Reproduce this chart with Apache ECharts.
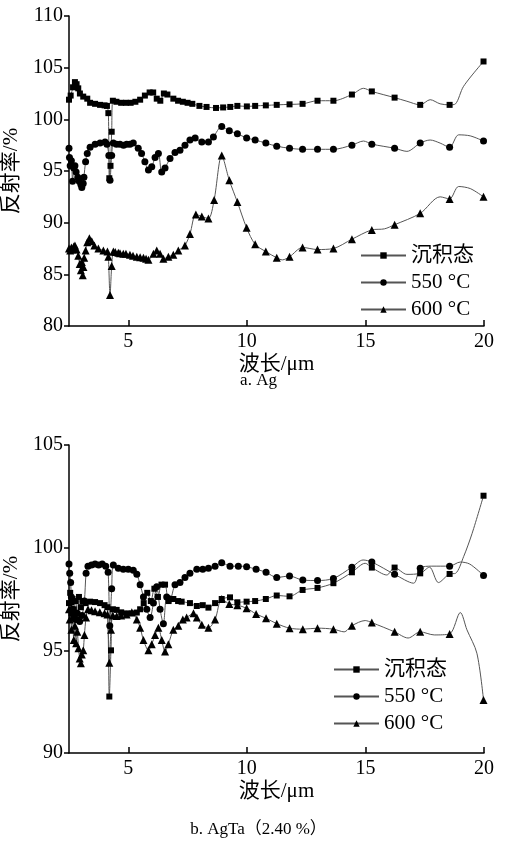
<!DOCTYPE html>
<html>
<head>
<meta charset="utf-8">
<script src="https://cdn.jsdelivr.net/npm/echarts/dist/echarts.min.js"></script>
<style>
  html, body { margin: 0; padding: 0; background: #fff; }
  #main { width: 517px; height: 850px; }
</style>
</head>
<body>
<div id="main"></div>
<script>
// tick positions and names
const xTicks = [5, 10, 15, 20];
const seriesNames = ['沉积态', '550 °C', '600 °C'];

// a. Ag -- points with markers, then bends of the curve (no marker)
const agDep = [[2.5,101.9],[2.57,102.3],[2.67,103.1],[2.75,103.6],[2.82,103.4],[2.89,103.0],[2.96,102.5],[3.1,102.2],[3.27,102.0],[3.39,101.6],[3.6,101.5],[3.81,101.4],[4.0,101.35],[4.1,101.3],[4.16,100.6],[4.2,94.3],[4.25,95.5],[4.3,98.8],[4.35,101.8],[4.5,101.7],[4.7,101.6],[4.9,101.6],[5.1,101.6],[5.3,101.7],[5.5,101.9],[5.7,102.3],[5.9,102.6],[6.05,102.6],[6.2,102.0],[6.35,101.8],[6.5,102.5],[6.65,102.4],[6.9,102.0],[7.1,101.8],[7.3,101.7],[7.5,101.6],[7.7,101.5],[8.0,101.3],[8.3,101.2],[8.7,101.1],[9.0,101.15],[9.3,101.2],[9.6,101.3],[10.0,101.25],[10.35,101.3],[10.8,101.35],[11.26,101.4],[11.8,101.45],[12.35,101.5],[12.98,101.8],[13.65,101.8],[14.43,102.4],[15.27,102.7],[16.23,102.1],[17.31,101.4],[18.55,101.4],[19.98,105.6]];
const agDepBends = [[14.92,103.0],[16.75,101.75],[17.73,101.9],[18.15,101.5],[18.8,101.5],[19.14,103.2]];

const ag550 = [[2.5,97.2],[2.52,96.3],[2.55,95.5],[2.6,96.0],[2.65,94.0],[2.7,95.3],[2.75,95.5],[2.8,94.9],[2.87,94.4],[2.93,94.0],[3.0,93.7],[3.04,93.4],[3.1,93.8],[3.13,94.4],[3.2,95.9],[3.27,96.7],[3.39,97.3],[3.6,97.6],[3.81,97.7],[4.02,97.8],[4.1,97.6],[4.18,96.5],[4.23,94.1],[4.3,96.5],[4.37,97.7],[4.5,97.6],[4.65,97.6],[4.8,97.5],[4.93,97.6],[5.07,97.6],[5.21,97.7],[5.42,97.2],[5.56,96.7],[5.7,95.9],[5.85,95.1],[5.99,95.4],[6.13,96.3],[6.27,96.7],[6.41,94.9],[6.55,95.3],[6.76,96.2],[6.97,96.8],[7.18,97.0],[7.39,97.5],[7.6,98.0],[7.82,98.2],[8.1,97.8],[8.38,97.8],[8.59,98.3],[8.94,99.3],[9.26,98.9],[9.6,98.6],[9.99,98.2],[10.35,98.0],[10.8,97.7],[11.26,97.4],[11.8,97.2],[12.35,97.1],[12.98,97.1],[13.65,97.1],[14.43,97.5],[15.27,97.6],[16.23,97.2],[17.31,97.7],[18.55,97.3],[19.98,97.9]];
const ag550Bends = [[14.92,97.9],[16.75,96.9],[17.73,98.0],[18.15,97.7],[18.93,98.5],[19.42,98.4]];

const ag600 = [[2.5,87.5],[2.55,87.3],[2.6,87.6],[2.65,87.4],[2.7,87.7],[2.75,87.8],[2.82,87.4],[2.89,86.8],[2.95,86.0],[3.0,85.4],[3.04,86.2],[3.08,84.9],[3.11,85.7],[3.14,86.6],[3.2,87.3],[3.27,88.1],[3.36,88.5],[3.46,88.2],[3.57,87.8],[3.74,87.5],[3.95,87.3],[4.12,87.2],[4.16,86.7],[4.23,83.0],[4.3,85.8],[4.37,87.2],[4.45,87.15],[4.58,87.1],[4.65,87.05],[4.79,87.0],[4.9,87.0],[5.07,86.9],[5.2,86.8],[5.36,86.7],[5.5,86.65],[5.64,86.6],[5.75,86.5],[5.85,86.4],[6.06,87.0],[6.2,87.3],[6.34,87.0],[6.48,86.5],[6.69,86.7],[6.9,86.9],[7.11,87.3],[7.39,87.8],[7.6,88.9],[7.85,90.8],[8.1,90.6],[8.38,90.4],[8.62,92.2],[8.94,96.5],[9.26,94.1],[9.6,92.0],[9.99,89.5],[10.35,87.9],[10.8,87.2],[11.26,86.6],[11.8,86.7],[12.35,87.6],[12.98,87.4],[13.65,87.5],[14.43,88.4],[15.27,89.3],[16.23,89.8],[17.31,90.9],[18.55,92.3],[19.98,92.5]];
const ag600Bends = [[11.5,86.4],[15.8,89.4],[18.15,92.5],[18.93,93.5],[19.42,93.3]];

// b. AgTa(2.40 %)
const agtaDep = [[2.5,97.3],[2.55,97.8],[2.6,96.8],[2.65,97.5],[2.7,97.0],[2.78,97.4],[2.85,96.5],[2.92,97.6],[3.0,97.1],[3.08,97.4],[3.2,97.3],[3.39,97.37],[3.6,97.35],[3.81,97.3],[4.0,97.2],[4.12,97.1],[4.2,92.75],[4.27,95.0],[4.35,97.0],[4.51,96.97],[4.7,96.85],[4.93,96.8],[5.15,96.8],[5.36,96.84],[5.5,97.0],[5.65,97.3],[5.8,97.8],[5.95,97.4],[6.1,98.0],[6.25,97.6],[6.4,98.2],[6.55,98.2],[6.7,97.4],[6.9,97.5],[7.1,97.4],[7.25,97.37],[7.6,97.3],[7.89,97.16],[8.14,97.2],[8.38,97.08],[8.66,97.3],[8.94,97.5],[9.29,97.58],[9.6,97.34],[9.99,97.37],[10.35,97.4],[10.8,97.5],[11.26,97.67],[11.8,97.63],[12.35,97.94],[12.98,98.04],[13.65,98.27],[14.43,98.8],[15.27,99.03],[16.23,99.03],[17.31,98.75],[18.55,98.72],[19.98,102.53]];
const agtaDepBends = [[14.99,99.24],[15.9,98.67],[16.75,98.7],[17.7,99.05],[18.08,98.3],[18.8,98.75],[19.14,99.56],[19.5,100.7]];

const agta550 = [[2.5,99.2],[2.53,98.75],[2.57,98.3],[2.6,97.6],[2.65,97.0],[2.7,96.7],[2.78,96.5],[2.85,96.8],[2.95,96.4],[3.05,96.7],[3.15,97.4],[3.22,98.75],[3.3,99.1],[3.45,99.15],[3.6,99.2],[3.75,99.15],[3.9,99.2],[4.05,99.1],[4.15,98.8],[4.22,96.2],[4.3,98.0],[4.37,99.15],[4.58,99.0],[4.79,98.95],[5.0,98.95],[5.21,98.9],[5.36,98.7],[5.5,98.2],[5.64,97.6],[5.78,97.0],[5.92,96.6],[6.06,97.3],[6.2,98.1],[6.34,97.0],[6.48,96.3],[6.62,97.6],[6.76,97.5],[6.97,98.2],[7.18,98.3],[7.39,98.55],[7.6,98.75],[7.89,98.95],[8.14,98.95],[8.38,99.0],[8.66,99.1],[8.94,99.27],[9.29,99.1],[9.64,99.1],[9.99,99.07],[10.39,98.95],[10.81,98.8],[11.26,98.55],[11.8,98.62],[12.36,98.42],[12.98,98.4],[13.65,98.5],[14.43,99.05],[15.27,99.3],[16.23,98.7],[17.31,99.0],[18.55,99.1],[19.98,98.65]];
const agta550Bends = [[14.9,99.4],[17.03,98.27],[17.8,99.1],[19.0,99.3],[19.4,99.2]];

const agta600 = [[2.5,97.0],[2.53,96.5],[2.57,97.4],[2.6,96.0],[2.65,96.6],[2.7,95.5],[2.75,96.2],[2.8,95.35],[2.85,95.9],[2.9,95.1],[2.95,94.6],[3.0,94.37],[3.04,94.8],[3.1,95.0],[3.15,95.75],[3.22,96.6],[3.3,97.0],[3.45,96.95],[3.6,96.9],[3.8,96.85],[4.0,96.8],[4.12,96.75],[4.2,94.4],[4.27,96.0],[4.35,96.7],[4.51,96.67],[4.7,96.7],[4.93,96.75],[5.15,96.85],[5.36,96.5],[5.5,96.1],[5.64,95.5],[5.85,95.0],[5.99,95.3],[6.13,95.75],[6.27,96.1],[6.41,95.5],[6.55,94.94],[6.69,95.3],[6.9,96.0],[7.11,96.2],[7.3,96.5],[7.46,96.6],[7.75,96.8],[7.89,96.6],[8.1,96.24],[8.38,96.1],[8.66,96.5],[8.94,97.5],[9.26,97.26],[9.6,97.2],[9.99,97.05],[10.39,96.77],[10.81,96.56],[11.26,96.3],[11.8,96.08],[12.36,96.03],[12.98,96.08],[13.65,96.03],[14.43,96.2],[15.27,96.35],[16.23,95.9],[17.31,95.9],[18.55,95.8],[19.98,92.58]];
const agta600Bends = [[14.1,95.9],[14.99,96.45],[16.8,95.6],[17.9,95.75],[19.0,96.84],[19.28,96.0],[19.7,94.86]];

const FONT = "'Liberation Serif', 'Noto Sans CJK SC', serif";
const chart = echarts.init(document.getElementById('main'));

// merge marked points and plain bends into one sorted line
function build(marked, bends) {
  const pts = marked.map(p => ({ value: p }));
  bends.forEach(p => pts.push({ value: p, symbol: 'none' }));
  return pts.sort((a, b) => a.value[0] - b.value[0]);
}

const symbols = ['rect', 'circle', 'triangle'];
const sizes = [6, 7, 8];

function mkSeries(idx, data, bends, gi) {
  return {
    name: seriesNames[idx],
    type: 'line',
    xAxisIndex: gi,
    yAxisIndex: gi,
    data: build(data, bends),
    symbol: symbols[idx],
    symbolSize: sizes[idx],
    showAllSymbol: true,
    smooth: 0.3,
    lineStyle: { color: '#555', width: 1 },
    itemStyle: { color: '#000' },
    animation: false
  };
}

function xAxis(gi) {
  return {
    type: 'value', gridIndex: gi, min: 2.5, max: 20,
    name: '波长/μm', nameLocation: 'middle', nameGap: 28,
    nameTextStyle: { fontFamily: FONT, fontSize: 21, color: '#000' },
    axisLine: { lineStyle: { color: '#000', width: 1.5 } },
    axisTick: { inside: true, length: 6, customValues: xTicks, lineStyle: { color: '#000', width: 1.5 } },
    axisLabel: { customValues: xTicks, margin: 6, fontFamily: FONT, fontSize: 20, color: '#000' },
    splitLine: { show: false }
  };
}

function yAxis(gi, min, max) {
  return {
    type: 'value', gridIndex: gi, min: min, max: max, interval: 5,
    name: '反射率/%', nameLocation: 'middle', nameGap: 40,
    nameTextStyle: { fontFamily: FONT, fontSize: 21, color: '#000' },
    axisLine: { show: true, lineStyle: { color: '#000', width: 1.5 } },
    axisTick: { show: true, length: 5, lineStyle: { color: '#000', width: 1.5 } },
    axisLabel: { margin: 6, fontFamily: FONT, fontSize: 20, color: '#000' },
    splitLine: { show: false }
  };
}

function legend(left, top) {
  return {
    orient: 'vertical', left: left, top: top, padding: 0,
    itemWidth: 45, itemHeight: 8, itemGap: 6,
    data: seriesNames,
    textStyle: { fontFamily: FONT, fontSize: 21, color: '#000' }
  };
}

const option = {
  animation: false,
  title: [
    { text: 'a. Ag', left: 'center', top: 367,
      textStyle: { fontFamily: FONT, fontSize: 17, fontWeight: 'normal', color: '#000' } },
    { text: 'b. AgTa（2.40 %）', left: 'center', top: 816,
      textStyle: { fontFamily: FONT, fontSize: 17, fontWeight: 'normal', color: '#000' } }
  ],
  legend: [legend(360, 245), legend(333, 659)],
  grid: [
    { left: 69, right: 33, top: 16, height: 310, containLabel: false, outerBoundsMode: 'none' },
    { left: 69, right: 33, top: 445, height: 308, containLabel: false, outerBoundsMode: 'none' }
  ],
  xAxis: [xAxis(0), xAxis(1)],
  yAxis: [yAxis(0, 80, 110), yAxis(1, 90, 105)],
  series: [
    mkSeries(0, agDep, agDepBends, 0),
    mkSeries(1, ag550, ag550Bends, 0),
    mkSeries(2, ag600, ag600Bends, 0),
    mkSeries(0, agtaDep, agtaDepBends, 1),
    mkSeries(1, agta550, agta550Bends, 1),
    mkSeries(2, agta600, agta600Bends, 1)
  ]
};

chart.setOption(option);
</script>
</body>
</html>
